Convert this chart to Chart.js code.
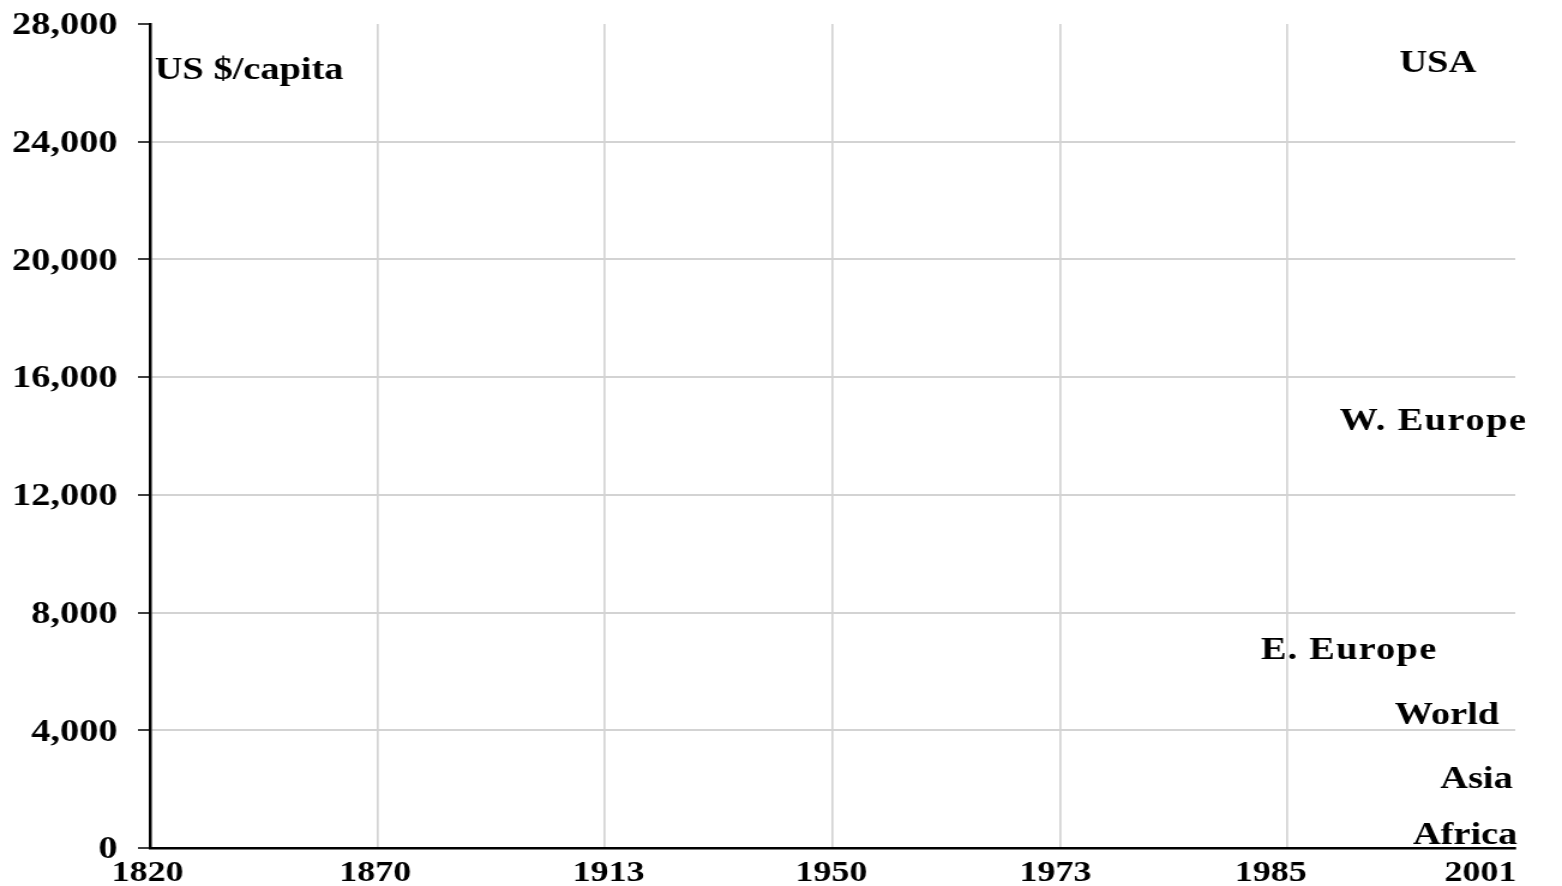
<!DOCTYPE html>
<html>
<head>
<meta charset="utf-8">
<script src="https://cdn.jsdelivr.net/npm/chart.js@4/dist/chart.umd.min.js"></script>
<style>
  html, body { margin: 0; padding: 0; background: #fff; }
</style>
</head>
<body>
<canvas id="gdpChart" width="1302" height="886" style="display:block;width:1562px;height:886px"></canvas>
<script>
// years on the x axis (equally spaced categories)
var years = ['1820', '1870', '1913', '1950', '1973', '1985', '2001'];
// y axis range and step
var yMin = 0;
var yMax = 28000;
var yStep = 4000;
// series names shown as labels near the right edge (no lines are drawn in the picture)
var seriesNames = ['USA', 'W. Europe', 'E. Europe', 'World', 'Asia', 'Africa'];
var seriesLabelAt = [5.66, 5.64, 5.27, 5.70, 5.83, 5.78];     // category index
var seriesLabelValue = [26650, 14480, 6720, 4480, 2320, 400];  // US $/capita
var unitLabel = 'US $/capita';
var unitLabelValue = 26400;

// small nudges of the year labels, as in the picture (px)
var yearLabelShift = [-2, -2, 3, -1, -4, -14, -29];
// extra letter spacing of the series names
var seriesLabelSpacing = ['0px', '1.2px', '1px', '0px', '0px', '0px'];

var FONT = '"Liberation Serif", "Times New Roman", serif';

var textPlugin = {
    id: 'textPlugin',
    afterDraw: function(chart){
        var ctx = chart.ctx;
        var xs = chart.scales.x;
        var ys = chart.scales.y;
        ctx.save();
        ctx.fillStyle = '#000';

        // year labels under the axis
        ctx.font = 'bold 30px ' + FONT;
        ctx.textAlign = 'center';
        ctx.textBaseline = 'middle';
        for (var i = 0; i < years.length; i++) {
            ctx.fillText(years[i], xs.getPixelForValue(i) + yearLabelShift[i], chart.chartArea.bottom + 25);
        }

        // series names
        ctx.font = 'bold 32px ' + FONT;
        for (var j = 0; j < seriesNames.length; j++) {
            ctx.letterSpacing = seriesLabelSpacing[j];
            ctx.fillText(seriesNames[j], xs.getPixelForValue(seriesLabelAt[j]), ys.getPixelForValue(seriesLabelValue[j]));
        }
        ctx.letterSpacing = '0px';

        // unit label
        ctx.textAlign = 'left';
        ctx.fillText(unitLabel, chart.chartArea.left + 4, ys.getPixelForValue(unitLabelValue));
        ctx.restore();
    }
};

var chart = new Chart(document.getElementById('gdpChart'), {
    type: 'line',
    data: {
        labels: years,
        datasets: seriesNames.map(function(name){
            return { label: name, data: [], borderColor: '#000' };
        })
    },
    options: {
        responsive: false,
        animation: false,
        devicePixelRatio: 1,
        layout: { padding: { top: 24, right: 39, left: 0, bottom: 0 } },
        plugins: {
            legend: { display: false },
            tooltip: { enabled: false }
        },
        scales: {
            x: {
                type: 'category',
                offset: false,
                afterFit: function(scale){
                    scale.height = 38;
                    scale.paddingLeft = 0;
                    scale.paddingRight = 0;
                },
                grid: {
                    color: function(c){
                        return (c.index === 0 || c.index === years.length - 1) ? 'rgba(0,0,0,0)' : '#d3d3d3';
                    },
                    lineWidth: 1.7,
                    drawTicks: false
                },
                border: { color: '#000', width: 2.5 },
                ticks: { display: false }
            },
            y: {
                min: yMin,
                max: yMax,
                afterFit: function(scale){
                    scale.width = 125;
                    scale.paddingTop = 0;
                    scale.paddingBottom = 0;
                },
                grid: {
                    color: function(c){
                        var v = c.tick ? c.tick.value : null;
                        return (v === yMax || v === yMin) ? 'rgba(0,0,0,0)' : '#d3d3d3';
                    },
                    lineWidth: 2,
                    tickColor: '#000',
                    tickWidth: 1.5,
                    tickLength: 10
                },
                border: { color: '#000', width: 2.5 },
                ticks: {
                    stepSize: yStep,
                    padding: 17,
                    labelOffset: 2,
                    color: '#000',
                    font: { family: FONT, size: 32, weight: 'bold' },
                    callback: function(v){ return v.toLocaleString('en-US'); }
                }
            }
        }
    },
    plugins: [textPlugin]
});
</script>
</body>
</html>
